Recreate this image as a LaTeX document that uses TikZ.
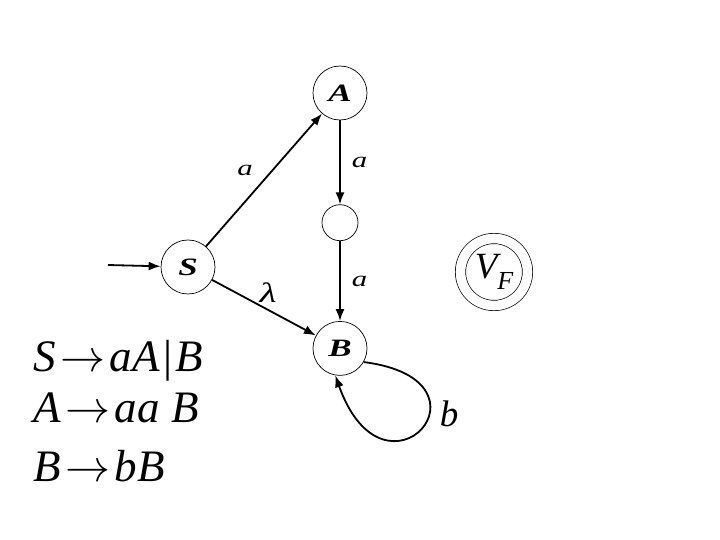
\RequirePackage{fix-cm}
\documentclass[tikz,border=0pt]{standalone}
\usepackage{graphicx}
\usepackage{fontspec}
\setmainfont{Liberation Serif}
\usetikzlibrary{arrows.meta,positioning}
\newcommand{\widelabel}[1]{\scalebox{1.4}[1]{#1}}
\tikzset{
  statenode/.style={draw,circle,line width=0.7pt,minimum size=54pt,inner sep=0pt,font=\fontsize{25}{25}\selectfont\itshape\bfseries},
  midnode/.style={draw,circle,line width=0.7pt,minimum size=36pt,inner sep=0pt},
  finalnode/.style={draw,circle,line width=0.7pt,double,double distance=9.6pt,minimum size=67pt,inner sep=0pt,font=\fontsize{37}{37}\selectfont\itshape},
  transarrow/.style={-{Latex[length=12pt,width=9pt]},line width=1.8pt},
  edgelabel/.style={font=\fontsize{22}{22}\selectfont\itshape,inner sep=2pt},
  rulenode/.style={anchor=base west,inner sep=0pt,font=\fontsize{45}{45}\selectfont}
}
\begin{document}
\begin{tikzpicture}[x=1pt,y=-1pt]
\useasboundingbox (0,0) rectangle (720,540);
\node[statenode] (S) at (188,267) {\widelabel{S}};
\node[statenode] (A) at (340,93) {\widelabel{A}};
\node[midnode,below=84pt of A] (mid) {};
\node[statenode,below=80pt of mid] (B) {\widelabel{B}};
\node[finalnode] (VF) at (494,272) {V\raisebox{-0.3em}{\fontsize{26}{26}\selectfont F}};
\coordinate (start) at (108,265);
\draw[transarrow] (start) -- (S);
\draw[transarrow] (S) -- node[edgelabel,midway,xshift=-19pt,yshift=10pt] {\widelabel{a}} (A);
\draw[transarrow] (S) -- node[edgelabel,midway,xshift=4pt,yshift=15pt,font=\fontsize{28}{28}\selectfont\itshape] {\widelabel{λ}} (B);
\draw[transarrow] (A) -- node[edgelabel,midway,right=9pt] {\widelabel{a}} (mid);
\draw[transarrow] (mid) -- node[edgelabel,midway,right=9pt] {\widelabel{a}} (B);
\draw[transarrow] (B.-30) .. controls (505,380) and (385,515) .. (B.-100);
\node[font=\fontsize{37}{37}\selectfont\itshape] (blabel) at (449,414) {b};
\node[rulenode] (rule1) at (33,371) {\textit{S}\hspace{0.1em}$\rightarrow$\hspace{0.1em}\textit{aA}\hspace{0.08em}|\hspace{0.06em}\textit{B}};
\node[rulenode] (rule2) at (33,422) {\textit{A}\hspace{0.1em}$\rightarrow$\hspace{0.1em}\textit{aa B}};
\node[rulenode] (rule3) at (33,481) {\textit{B}\hspace{0.1em}$\rightarrow$\hspace{0.1em}\textit{bB}};
\end{tikzpicture}
\end{document}
